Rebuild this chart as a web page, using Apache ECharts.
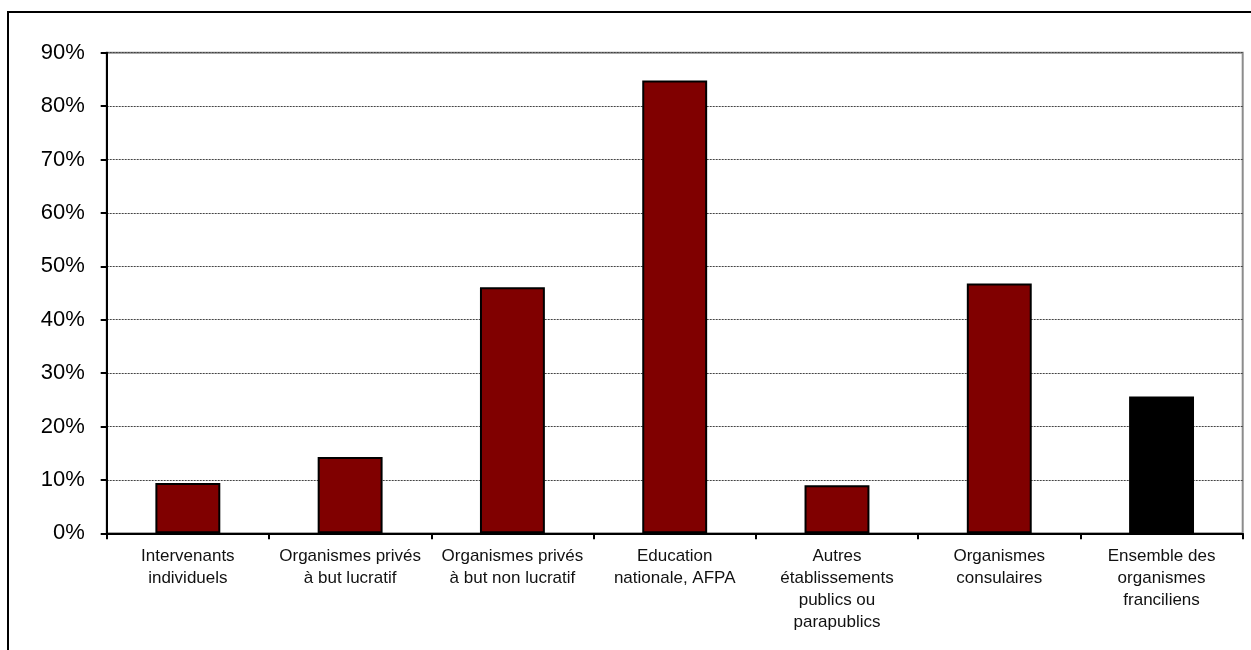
<!DOCTYPE html>
<html>
<head>
<meta charset="utf-8">
<script src="https://cdn.jsdelivr.net/npm/echarts@6/dist/echarts.min.js"></script>
<style>
  html, body { margin: 0; padding: 0; background: #fff; }
  #chart { width: 1251px; height: 650px; }
</style>
</head>
<body>
<div id="chart"></div>
<script>
// Categories of training organisations (Île-de-France)
const categories = [
  'Intervenants\nindividuels',
  'Organismes privés\nà but lucratif',
  'Organismes privés\nà but non lucratif',
  'Education\nnationale, AFPA',
  'Autres\nétablissements\npublics ou\nparapublics',
  'Organismes\nconsulaires',
  'Ensemble des\norganismes\nfranciliens'
];
// Share per category, in percent
const values = [9.4, 14.3, 46.1, 84.8, 9.0, 46.8, 25.6];
// Index of the overall ("Ensemble") bar, drawn in black
const totalIndex = 6;
// Y axis ticks
const yMin = 0, yMax = 90, yStep = 10;

const chart = echarts.init(document.getElementById('chart'), null, { renderer: 'canvas' });

chart.setOption({
  animation: false,
  backgroundColor: '#ffffff',
  textStyle: { fontFamily: 'Liberation Sans, Arial, sans-serif' },
  graphic: [{
    type: 'rect',
    shape: { x: 8, y: 12, width: 1300, height: 700 },
    style: { fill: 'none', stroke: '#000', lineWidth: 2 },
    silent: true,
    z: 100
  }],
  grid: {
    left: 106.7, right: 8.3, top: 52.7, bottom: 116.7,
    show: true, borderColor: '#8c8c8c', borderWidth: 2,
    backgroundColor: 'transparent'
  },
  xAxis: {
    type: 'category',
    data: categories,
    boundaryGap: true,
    axisLine: { show: true, lineStyle: { color: '#000', width: 2 } },
    axisTick: { show: true, alignWithLabel: false, length: 6, lineStyle: { color: '#000', width: 2 } },
    axisLabel: {
      interval: 0,
      margin: 12,
      color: '#111',
      fontSize: 17,
      lineHeight: 22,
      fontFamily: 'Liberation Sans, Arial, sans-serif'
    },
    splitLine: { show: false }
  },
  yAxis: {
    type: 'value',
    min: yMin, max: yMax, interval: yStep,
    axisLine: { show: true, lineStyle: { color: '#000', width: 2 } },
    axisTick: { show: true, length: 6, lineStyle: { color: '#000', width: 2 } },
    axisLabel: {
      formatter: v => v + '%',
      color: '#000',
      fontSize: 22,
      margin: 22,
      fontFamily: 'Liberation Sans, Arial, sans-serif'
    },
    splitLine: { show: true, lineStyle: { color: '#444', width: 1, type: [2, 1] } }
  },
  series: [{
    type: 'bar',
    barWidth: '40%',
    data: values.map((v, i) => ({
      value: v,
      itemStyle: { color: i === totalIndex ? '#000000' : '#800000' }
    })),
    itemStyle: { borderColor: '#000', borderWidth: 2 },
    label: { show: false }
  }]
});
</script>
</body>
</html>
